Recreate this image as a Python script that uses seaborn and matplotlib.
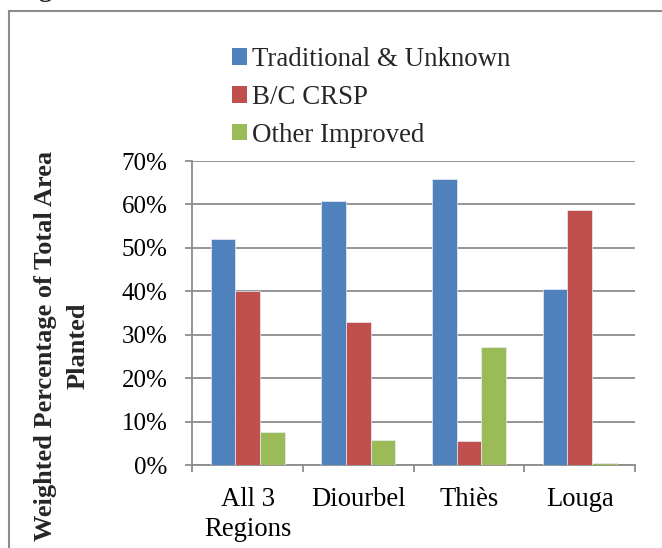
import matplotlib
matplotlib.use("Agg")
import matplotlib.pyplot as plt
import seaborn as sns
import pandas as pd
from matplotlib.patches import Patch, Rectangle
from matplotlib.ticker import FixedLocator, PercentFormatter

categories = ["All 3\nRegions", "Diourbel", "Thiès", "Louga"]
series = ["Traditional & Unknown", "B/C CRSP", "Other Improved"]
traditional = [52.0, 60.7, 65.8, 40.5]
bc_crsp = [40.0, 33.0, 5.5, 58.7]
other_improved = [7.5, 5.7, 27.2, 0.5]
colors = ["#4F81BD", "#C0504D", "#9BBB59"]
y_ticks = [0, 10, 20, 30, 40, 50, 60, 70]

rows = []
for s, vals in zip(series, [traditional, bc_crsp, other_improved]):
    for c, v in zip(categories, vals):
        rows.append({"Region": c, "Variety": s, "Pct": v})
df = pd.DataFrame(rows)

sns.set_theme(style="white")
plt.rcParams["font.family"] = ["Liberation Serif", "DejaVu Serif"]

fig = plt.figure(figsize=(6.62, 5.48), dpi=100)
ax = fig.add_axes([192.3 / 662, 1 - 465 / 548, (635 - 192.3) / 662, (465 - 161) / 548])

sns.barplot(data=df, x="Region", y="Pct", hue="Variety", order=categories,
            hue_order=series, palette=colors, saturation=1, width=0.667, gap=0,
            edgecolor="#E8EEF6", linewidth=0.5, legend=False, ax=ax, zorder=3)

grid_c = "#8C8C8C"
ax.set_ylim(0, 70)
ax.set_xlim(-0.5, 3.5)
ax.yaxis.set_major_locator(FixedLocator(y_ticks))
ax.yaxis.set_major_formatter(PercentFormatter(decimals=0))
ax.grid(axis="y", color=grid_c, linewidth=1.3, zorder=0)
ax.set_axisbelow(True)

for side in ["top", "right"]:
    ax.spines[side].set_visible(False)
for side in ["left", "bottom"]:
    ax.spines[side].set_color(grid_c)
    ax.spines[side].set_linewidth(1.3)

ax.tick_params(axis="y", which="major", left=True, length=5, width=1.3,
               color=grid_c, direction="out", pad=13, labelsize=18,
               labelcolor="black")
ax.set_xticks(range(len(categories)))
ax.set_xticklabels(categories, linespacing=1.25)
ax.tick_params(axis="x", which="major", bottom=True, length=0, pad=16,
               labelsize=19.2, labelcolor="black")
ax.set_xticks([i - 0.5 for i in range(len(categories) + 1)], minor=True)
ax.tick_params(axis="x", which="minor", bottom=True, length=5, width=1.3,
               color=grid_c, direction="out")
ax.set_xlabel("")
ax.set_ylabel("")

fig.text(62 / 662, 1 - 346 / 548, "Weighted Percentage of Total Area\nPlanted",
         rotation=90, ha="center", va="center", fontsize=19,
         fontweight="bold", linespacing=1.5, multialignment="center")

handles = [Patch(facecolor=c, edgecolor="none") for c in colors]
fig.legend(handles, series, loc="upper left",
           bbox_to_anchor=(232 / 662, 1 - 47 / 548), frameon=False,
           fontsize=19.4, handlelength=0.55, handleheight=0.55,
           handletextpad=0.2, labelspacing=0.48, borderpad=0,
           borderaxespad=0)

fig.patches.append(Rectangle((9 / 662, -0.2), 1.2, 1.2 - 10.5 / 548,
                             transform=fig.transFigure, fill=False,
                             edgecolor="#8C8C8C", linewidth=1.5))
fig.text(45 / 662, 1 + 2.5 / 548, "g", fontsize=19, fontweight="bold",
         ha="center", va="baseline")

fig.savefig("out.png", dpi=100)
